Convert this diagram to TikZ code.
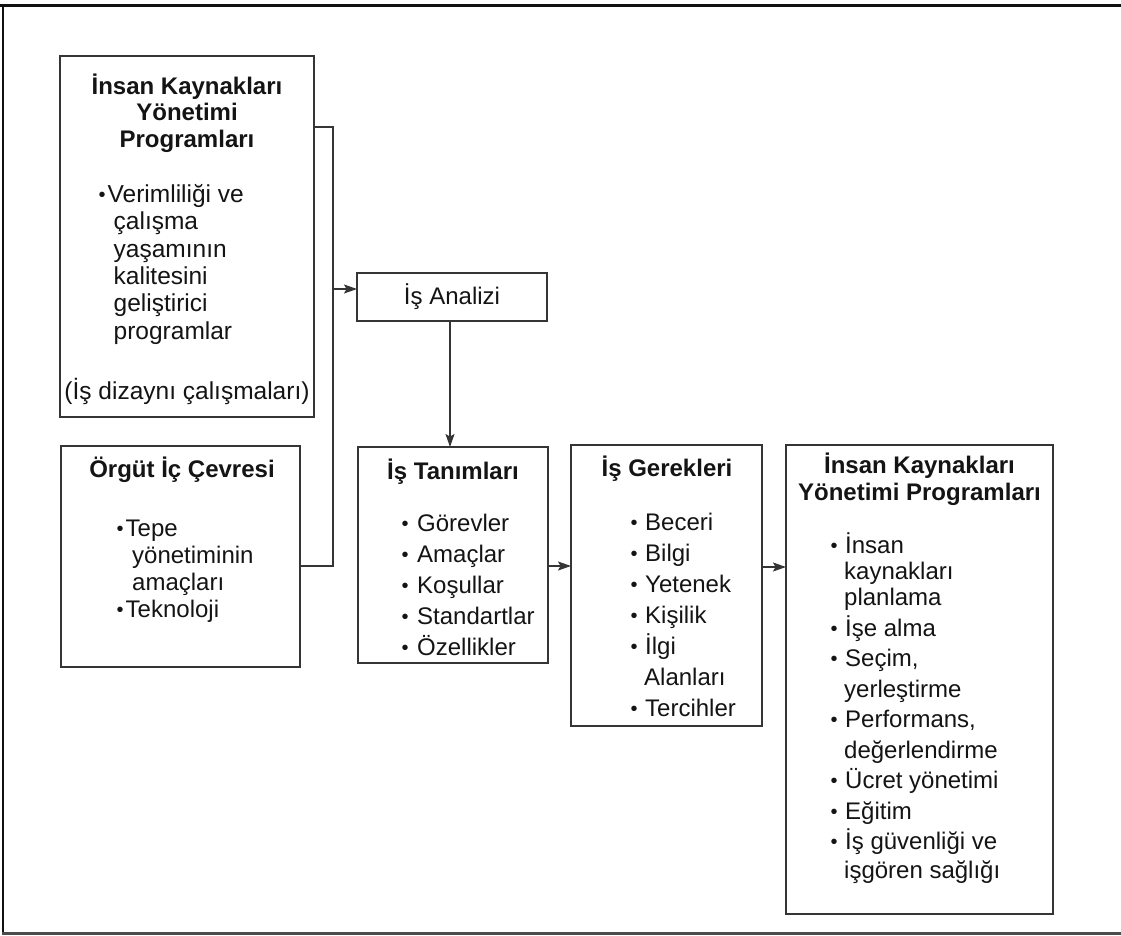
\documentclass[tikz,border=0pt]{standalone}
\usepackage{fontspec}
\setmainfont{Liberation Sans}
\usetikzlibrary{arrows.meta}

\definecolor{inkc}{HTML}{141414}
\definecolor{linec}{HTML}{353535}
\definecolor{framec}{HTML}{111111}

% fixed first-line height, so a node's top lies 24pt above its first baseline
\newcommand{\firstline}{\rule{0pt}{24pt}}
% bullet set in a box of the given width
\newcommand{\bu}[1]{\makebox[#1][l]{\hspace*{-1pt}\raisebox{1.2pt}{\fontsize{20}{20}\selectfont •}}}
% indentation of a continued bullet line
\newcommand{\ind}[1]{\hspace*{#1}}

\begin{document}
\lineskiplimit=-40pt
\lineskip=0pt
\begin{tikzpicture}[x=1pt,y=-1pt,
  box/.style={draw=linec, line width=1.2pt, inner sep=0pt, outer sep=0pt},
  conn/.style={draw=linec, line width=1.2pt},
  arr/.style={conn, -{Stealth[length=13pt,width=9pt,inset=2.5pt]}},
  title/.style={inner sep=0pt, text=inkc, align=center, anchor=north},
  items/.style={inner sep=0pt, text=inkc, align=left, anchor=north west},
  plain/.style={inner sep=0pt, text=inkc, anchor=north,
    font=\fontsize{24.5}{27.4}\selectfont},
]
\useasboundingbox (0,0) rectangle (1121,936);
\fill[white] (0,0) rectangle (1121,936);

% page frame
\draw[framec, line width=3pt] (0,5.5) -- (1121,5.5);
\draw[framec, line width=2.5pt] (3,4) -- (3,934);
\draw[black!70, line width=2.5pt] (1.8,933.5) -- (1121,933.5);

% boxes
\node[box, minimum width=254pt, minimum height=361pt] (ikyprog) at (187,236.5) {};
\node[box, minimum width=239pt, minimum height=221pt] (orgut) at (180.5,556.5) {};
\node[box, minimum width=190pt, minimum height=48pt, text=inkc,
      font=\fontsize{24}{28}\selectfont] (analiz) at (452,297) {İş Analizi};
\node[box, minimum width=190pt, minimum height=216pt] (tanim) at (453,555) {};
\node[box, minimum width=191pt, minimum height=281pt] (gerek) at (666.5,585.5) {};
\node[box, minimum width=267pt, minimum height=469pt] (ikysag) at (919.5,679.5) {};

% İnsan Kaynakları Yönetimi Programları (upper left)
\node[title, font=\fontsize{24}{26.5}\selectfont\bfseries] (ikyprogT) at (187,70)
  {\firstline İnsan Kaynakları\\Yönetimi\\Programları};
\node[items, font=\fontsize{24.5}{27.4}\selectfont] (ikyprogL) at (99.5,178)
  {\firstline\bu{8pt}Verimliliği ve\\\ind{14pt}çalışma\\\ind{14pt}yaşamının\\\ind{14pt}kalitesini\\\ind{14pt}geliştirici\\\ind{14pt}programlar};
\node[plain] (ikyprogN) at (187,375) {\firstline(İş dizaynı çalışmaları)};

% Örgüt İç Çevresi
\node[title, font=\fontsize{24}{27}\selectfont\bfseries] (orgutT) at (182,453)
  {\firstline Örgüt İç Çevresi};
\node[items, font=\fontsize{24}{27}\selectfont] (orgutL) at (117.5,512)
  {\firstline\bu{8pt}Tepe\\\ind{14.5pt}yönetiminin\\\ind{14.5pt}amaçları\\\bu{8pt}Teknoloji};

% İş Tanımları
\node[title, font=\fontsize{24}{27}\selectfont\bfseries] (tanimT) at (453,455)
  {\firstline İş Tanımları};
\node[items, font=\fontsize{24}{31}\selectfont] (tanimL) at (402.5,507)
  {\firstline\bu{14.5pt}Görevler\\\bu{14.5pt}Amaçlar\\\bu{14.5pt}Koşullar\\\bu{14.5pt}Standartlar\\\bu{14.5pt}Özellikler};

% İş Gerekleri
\node[title, font=\fontsize{24}{27}\selectfont\bfseries] (gerekT) at (667,452)
  {\firstline İş Gerekleri};
\node[items, font=\fontsize{24}{31}\selectfont] (gerekL) at (631.5,506)
  {\firstline\bu{13.5pt}Beceri\\\bu{13.5pt}Bilgi\\\bu{13.5pt}Yetenek\\\bu{13.5pt}Kişilik\\\bu{13.5pt}İlgi\\\ind{12.5pt}Alanları\\\bu{13.5pt}Tercihler};

% İnsan Kaynakları Yönetimi Programları (right)
\node[title, font=\fontsize{24}{27.5}\selectfont\bfseries] (ikysagT) at (919.5,449)
  {\firstline İnsan Kaynakları\\Yönetimi Programları};
\node[items, font=\fontsize{24}{30.5}\selectfont] (ikysagL) at (831.5,529)
  {\firstline\bu{13.5pt}İnsan\\[-4pt]\ind{12.5pt}kaynakları\\[-4.5pt]\ind{12.5pt}planlama\\\bu{13.5pt}İşe alma\\\bu{13.5pt}Seçim,\\\ind{12.5pt}yerleştirme\\\bu{13.5pt}Performans,\\\ind{12.5pt}değerlendirme\\\bu{13.5pt}Ücret yönetimi\\\bu{13.5pt}Eğitim\\\bu{13.5pt}İş güvenliği ve\\[-1.5pt]\ind{12.5pt}işgören sağlığı};

% connectors
\coordinate (jTop) at (333,127);
\coordinate (jMid) at (333,289);
\coordinate (jBot) at (333,566);
\coordinate (rowA) at (0,566);
\coordinate (rowB) at (0,567);

\draw[conn] (ikyprog.east |- jTop) -- (jTop) -- (jBot) -- (orgut.east |- jBot);
\draw[arr] (jMid) -- (analiz.west |- jMid);
\draw[arr] ([xshift=-2pt]analiz.south) -- ([xshift=-2pt]analiz.south |- tanim.north);
\draw[arr] (tanim.east |- rowA) -- (gerek.west |- rowA);
\draw[arr] (gerek.east |- rowB) -- (ikysag.west |- rowB);
\end{tikzpicture}
\end{document}
